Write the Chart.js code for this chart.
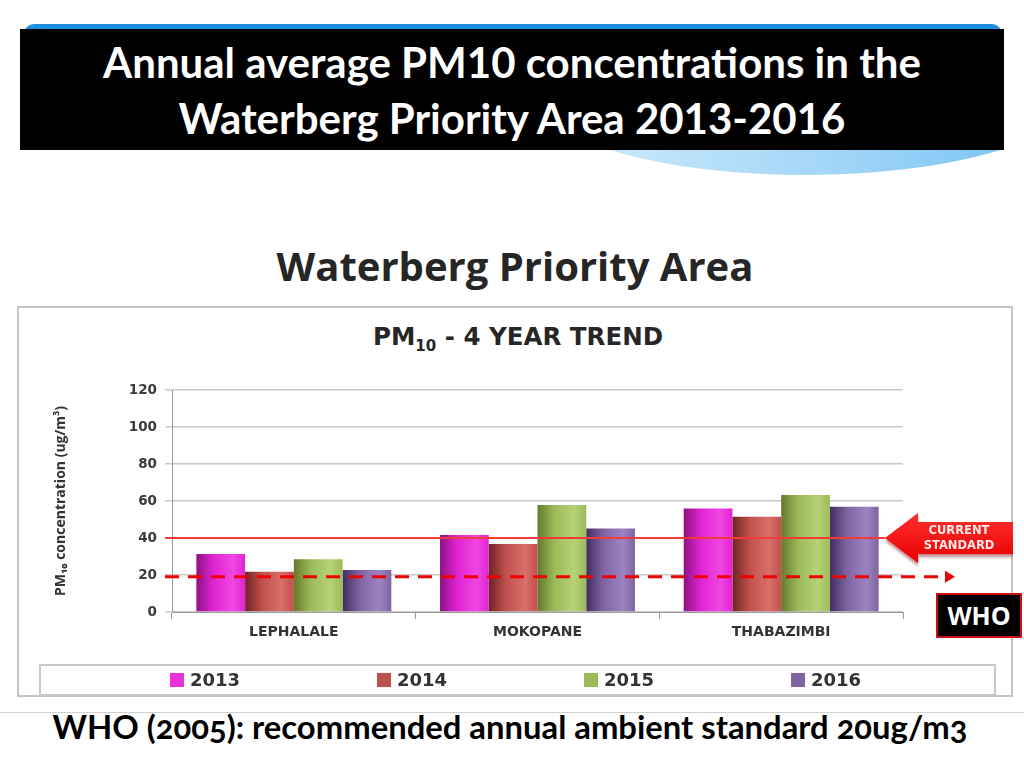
<!DOCTYPE html>
<html>
<head>
<meta charset="utf-8">
<script src="https://cdn.jsdelivr.net/npm/chart.js@4.4.1/dist/chart.umd.min.js"></script>
<style>
body { margin: 0; width: 1024px; height: 768px; background: #fff; position: relative; overflow: hidden; }
.band { position: absolute; left: 24px; top: 24px; width: 978px; height: 14px; background: #1e8fe0; border-radius: 10px 10px 0 0; }
.waveclip { position: absolute; left: 20px; top: 29px; width: 984px; height: 150px; overflow: hidden; }
.wave { position: absolute; left: 525px; top: -2px; width: 520px; height: 148px; border-radius: 50%;
        background: linear-gradient(to right, #d0ecfd, #a8d8f8 50%, #72c0f4); }
.header { position: absolute; left: 20px; top: 29px; width: 984px; height: 121px; background: #000;
          color: #fff; font: 700 42px Lato, sans-serif; text-align: center; line-height: 56px; padding-top: 5px; box-sizing: border-box; }
.heading { position: absolute; left: 0; top: 238px; width: 1030px; line-height: 54px; text-align: center;
           font: 700 40px "Open Sans", sans-serif; color: #262626; }
.chartbox { position: absolute; left: 17px; top: 306px; width: 996px; height: 391px; border: 2px solid #c4c4c4; box-sizing: border-box; }
#chart { position: absolute; left: 17px; top: 306px; }
.ctitle { position: absolute; left: 0; top: 322px; width: 1036px; text-align: center; line-height: 32px;
          font: 700 24.5px "DejaVu Sans", sans-serif; color: #262626; }
.ctitle sub { font-size: 15px; }
.who { position: absolute; left: 936px; top: 593px; width: 86px; height: 45px; background: #000; border: 2px solid #d01010;
       box-sizing: border-box; color: #fff; font: 700 25px "Open Sans", sans-serif; text-align: center; line-height: 40px; z-index: 2; }
.rule { position: absolute; left: 0; top: 712px; width: 1024px; height: 1px; background: #d0d0d0; }
.note { position: absolute; left: 0; top: 707px; width: 1020px; text-align: center; line-height: 42px;
        font: 700 32.8px Lato, sans-serif; font-variant-numeric: oldstyle-nums; color: #000; }
</style>
</head>
<body>
<div class="band"></div>
<div class="waveclip"><div class="wave"></div></div>
<div class="header">Annual average PM10 concentrations in the<br>Waterberg Priority Area 2013-2016</div>
<div class="heading">Waterberg Priority Area</div>
<div class="chartbox"></div>
<div class="ctitle">PM<sub>10</sub> - 4 YEAR TREND</div>
<canvas id="chart" width="996" height="391"></canvas>
<div class="who">WHO</div>
<div class="rule"></div>
<div class="note">WHO (2005): recommended annual ambient standard 20ug/m3</div>
<script>
// values (ug/m3)
const sites = ["LEPHALALE", "MOKOPANE", "THABAZIMBI"];
const years = ["2013", "2014", "2015", "2016"];
const pm2013 = [31.4, 41.6, 56.0];
const pm2014 = [21.8, 36.8, 51.5];
const pm2015 = [28.5, 57.8, 63.2];
const pm2016 = [22.7, 45.2, 56.9];
const yTicks = [0, 20, 40, 60, 80, 100, 120];
const currentStandard = 40;
const whoGuideline = 19;

// dark edge, base, highlight for each year
const barShades = [
    ["#8c1282", "#e024d2", "#f046e2"],
    ["#6e2422", "#c0504d", "#d8706c"],
    ["#66782c", "#9bbb59", "#b6d276"],
    ["#3e2e60", "#8064a2", "#9c84c2"]
];
const legendColors = ["#ea30da", "#c0504d", "#9bbb59", "#8064a2"];

function shade(i)
{
    return function (ctx)
    {
        const c = barShades[i];
        const xs = ctx.chart.scales.x;
        if (!xs || ctx.type !== "data") return c[1];
        const cw = xs.width / sites.length;
        const bw = cw * 0.8 / years.length;
        const left = xs.getPixelForValue(ctx.dataIndex) - cw * 0.4 + i * bw;
        if (!isFinite(left) || !isFinite(bw) || bw <= 0) return c[1];
        const g = ctx.chart.ctx.createLinearGradient(left, 0, left + bw, 0);
        g.addColorStop(0, c[0]);
        g.addColorStop(0.35, c[1]);
        g.addColorStop(0.75, c[2]);
        g.addColorStop(1, c[1]);
        return g;
    };
}

// standard lines, arrow callout
const standards = {
    id: "standards",
    afterDatasetsDraw(chart)
    {
        const ctx = chart.ctx;
        const area = chart.chartArea;
        const ys = chart.scales.y;
        const y40 = ys.getPixelForValue(currentStandard);
        const yWho = ys.getPixelForValue(whoGuideline);
        const tip = area.right - 18;
        ctx.save();

        ctx.strokeStyle = "#f23a3a";
        ctx.lineWidth = 2;
        ctx.beginPath();
        ctx.moveTo(area.left - 7, y40);
        ctx.lineTo(tip, y40);
        ctx.stroke();

        ctx.strokeStyle = "#ee0000";
        ctx.lineWidth = 3;
        ctx.setLineDash([14, 9]);
        ctx.beginPath();
        ctx.moveTo(area.left - 7, yWho);
        ctx.lineTo(area.right + 42, yWho);
        ctx.stroke();
        ctx.setLineDash([]);
        ctx.fillStyle = "#ee0000";
        ctx.beginPath();
        ctx.moveTo(area.right + 42, yWho - 6);
        ctx.lineTo(area.right + 52, yWho);
        ctx.lineTo(area.right + 42, yWho + 6);
        ctx.closePath();
        ctx.fill();

        // arrow pointing at the current standard
        const base = tip + 33;
        const end = chart.width;
        ctx.shadowColor = "rgba(120,0,0,0.45)";
        ctx.shadowOffsetY = 3;
        ctx.shadowBlur = 3;
        const g = ctx.createLinearGradient(0, y40 - 25, 0, y40 + 25);
        g.addColorStop(0, "#ff3030");
        g.addColorStop(1, "#e80000");
        ctx.fillStyle = g;
        ctx.beginPath();
        ctx.moveTo(tip, y40);
        ctx.lineTo(base, y40 - 25);
        ctx.lineTo(base, y40 - 16);
        ctx.lineTo(end, y40 - 16);
        ctx.lineTo(end, y40 + 16);
        ctx.lineTo(base, y40 + 16);
        ctx.lineTo(base, y40 + 25);
        ctx.closePath();
        ctx.fill();
        ctx.shadowColor = "transparent";
        ctx.fillStyle = "#ffe8e8";
        ctx.font = "bold 11.5px 'DejaVu Sans'";
        ctx.textAlign = "center";
        ctx.textBaseline = "middle";
        ctx.fillText("CURRENT", base + 41, y40 - 7);
        ctx.fillText("STANDARD", base + 41, y40 + 8);
        ctx.restore();
    }
};

// boxed legend with evenly spread entries
const yearLegend = {
    id: "yearLegend",
    afterDraw(chart)
    {
        const ctx = chart.ctx;
        const top = 359, bottom = 389, left = 23, right = 978;
        ctx.save();
        ctx.strokeStyle = "#c8c8c8";
        ctx.lineWidth = 2;
        ctx.strokeRect(left, top, right - left, bottom - top);
        const mid = (left + right) / 2;
        const cy = (top + bottom) / 2;
        ctx.font = "bold 18px 'DejaVu Sans'";
        ctx.textBaseline = "middle";
        chart.data.datasets.forEach((ds, i) =>
        {
            const x = mid + (i - 1.5) * 207 - 37;
            ctx.fillStyle = legendColors[i];
            ctx.fillRect(x, cy - 7, 14, 14);
            ctx.fillStyle = "#333";
            ctx.fillText(ds.label, x + 20, cy + 1);
        });
        ctx.restore();
    }
};

const yearData = [pm2013, pm2014, pm2015, pm2016];

new Chart(document.getElementById("chart"), {
    type: "bar",
    data: {
        labels: sites,
        datasets: years.map((yr, i) => ({
            label: yr,
            data: yearData[i],
            backgroundColor: shade(i),
            borderWidth: 0,
            categoryPercentage: 0.8,
            barPercentage: 1.0
        }))
    },
    options: {
        responsive: false,
        animation: false,
        layout: { padding: { left: 30, top: 84, right: 110, bottom: 45 } },
        plugins: { legend: { display: false }, tooltip: { enabled: false } },
        scales: {
            x: {
                grid: { drawOnChartArea: false, drawTicks: true, tickLength: 7, color: "#9a9a9a" },
                border: { color: "#9a9a9a" },
                ticks: { padding: 5, color: "#333", font: { family: "DejaVu Sans", weight: "bold", size: 14 } },
                afterFit(scale) { scale.height = 40; }
            },
            y: {
                min: yTicks[0],
                max: yTicks[yTicks.length - 1],
                ticks: { stepSize: yTicks[1] - yTicks[0], padding: 8, color: "#3a3a3a",
                         font: { family: "DejaVu Sans", weight: "bold", size: 13.5 } },
                grid: { color: "#c8c8c8", tickLength: 7, lineWidth: 1.5 },
                border: { color: "#9a9a9a" },
                title: { display: true, text: "PM\u2081\u2080 concentration (ug/m\u00b3)", color: "#333",
                         padding: { top: 6, bottom: 0 },
                         font: { family: "Open Sans", weight: "bold", size: 14 } },
                afterFit(scale) { scale.width = 125; }
            }
        }
    },
    plugins: [standards, yearLegend]
});
</script>
</body>
</html>
